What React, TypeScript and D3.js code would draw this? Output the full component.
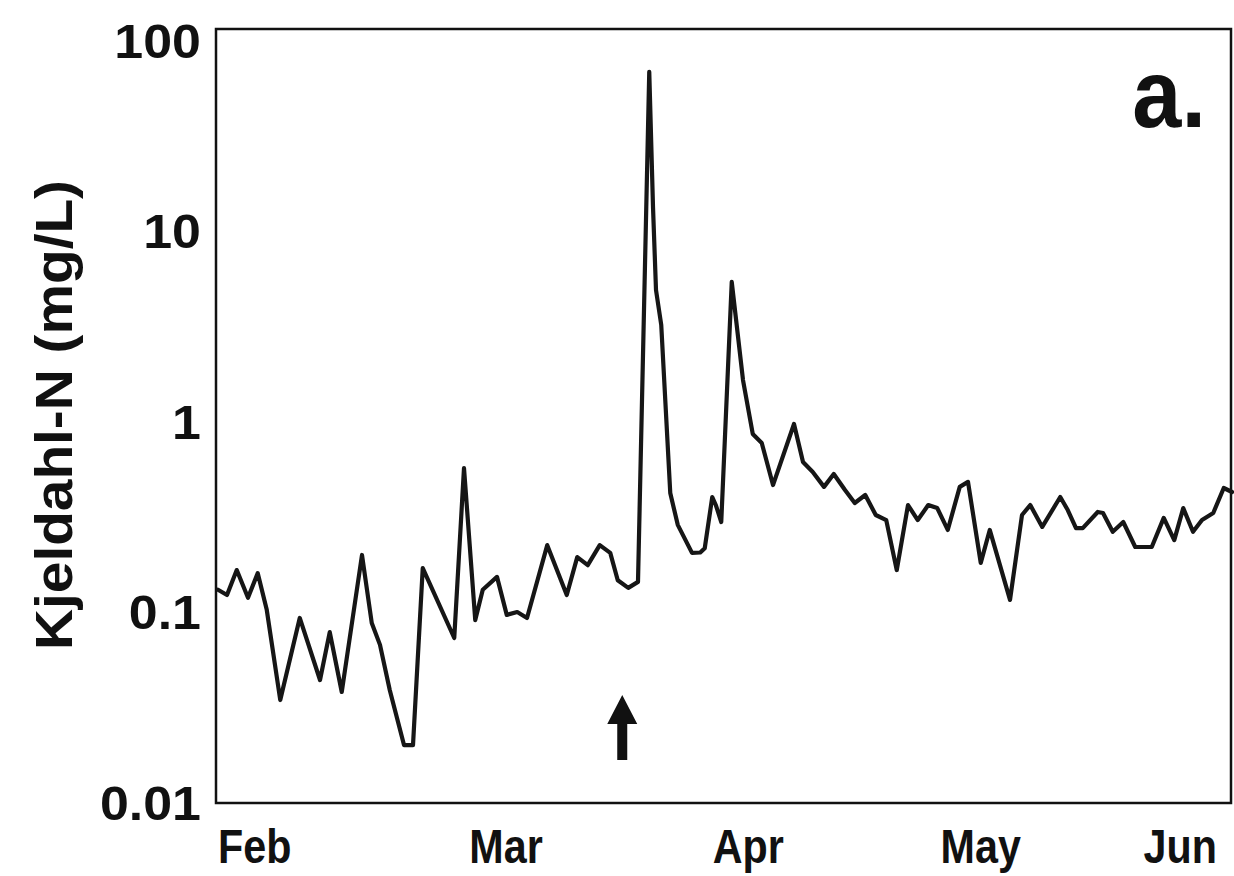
import React from "react";
import * as d3 from "d3";

// Days since 1 Feb (sampling dates) and Kjeldahl-N concentration (mg/L)
const days = [
  0, 1.2, 2.5, 4.0, 5.3, 6.5, 8.3, 10.9, 13.6, 14.9, 16.5, 19.2, 20.5, 21.6, 22.9,
  24.8, 26.0, 27.3, 31.5, 32.8, 34.3, 35.3, 37.2, 38.5, 39.9, 41.2, 43.9, 46.5, 47.9,
  49.3, 50.9, 52.3, 53.3, 54.7, 56.0, 57.5, 58.0, 58.4, 59.1, 60.3, 61.3, 63.2, 64.3,
  64.9, 65.9, 66.4, 67.1, 68.5, 70.0, 71.3, 72.5, 74.0, 76.8, 78.0, 79.3, 80.8, 82.1,
  83.6, 84.9, 86.3, 87.7, 89.1, 90.5, 92.0, 93.3, 94.7, 95.9, 97.3, 98.9, 100.0, 101.7,
  102.9, 105.6, 107.2, 108.3, 109.9, 112.3, 113.3, 114.4, 115.3, 117.3, 118.0, 119.3,
  120.7, 122.3, 124.5, 126.1, 127.5, 128.7, 130.0, 131.2, 132.7, 134.1, 135.2,
];
const values = [
  0.13, 0.122, 0.165, 0.118, 0.159, 0.102, 0.0343, 0.0925, 0.0437, 0.078, 0.0378, 0.198,
  0.087, 0.0668, 0.0387, 0.0199, 0.0199, 0.169, 0.0726, 0.566, 0.0902, 0.13, 0.152, 0.096,
  0.0994, 0.0925, 0.223, 0.122, 0.193, 0.175, 0.223, 0.203, 0.146, 0.133, 0.143, 68,
  13.3, 4.87, 3.19, 0.419, 0.285, 0.203, 0.204, 0.215, 0.399, 0.36, 0.295, 5.37, 1.64,
  0.855, 0.767, 0.461, 0.964, 0.609, 0.54, 0.451, 0.527, 0.434, 0.371, 0.409, 0.321,
  0.302, 0.165, 0.362, 0.302, 0.362, 0.349, 0.268, 0.451, 0.479, 0.18, 0.268, 0.115,
  0.321, 0.362, 0.278, 0.399, 0.341, 0.274, 0.274, 0.333, 0.329, 0.262, 0.295, 0.218,
  0.218, 0.31, 0.237, 0.349, 0.262, 0.302, 0.329, 0.445, 0.424,
];

const monthLabels = ["Feb", "Mar", "Apr", "May", "Jun"];
const monthLabelDays = [4.9, 38.4, 70.7, 101.7, 128.3];

const yTickValues = [0.01, 0.1, 1, 10, 100];
const yTickLabels = ["0.01", "0.1", "1", "10", "100"];

const arrowDay = 53.9;
const panelLabel = "a.";
const yAxisTitle = "Kjeldahl-N (mg/L)";

export default function App() {
  const W = 1234;
  const H = 876;
  const x = d3.scaleLinear().domain([0, 135.2]).range([218, 1232]);
  const y = d3.scaleLog().domain([0.01, 100]).range([802, 40]);

  const pts = days.map((d, i) => [d, values[i]] as [number, number]);
  const line = d3
    .line<[number, number]>()
    .x((d) => x(d[0]))
    .y((d) => y(d[1]))
    .curve(d3.curveLinear);

  const font = "'Liberation Sans', Arial, sans-serif";
  const ax = x(arrowDay);

  return (
    <svg
      width={W}
      height={H}
      viewBox={`0 0 ${W} ${H}`}
      style={{ position: "absolute", left: 0, top: 0, background: "#fff" }}
    >
      <rect x={0} y={0} width={W} height={H} fill="#fff" />
      {/* frame */}
      <rect
        x={x(0) - 2}
        y={29}
        width={x(135.2) - x(0) + 1}
        height={774}
        fill="none"
        stroke="#111"
        strokeWidth={2.5}
      />
      {/* series */}
      <path
        d={line(pts) || ""}
        fill="none"
        stroke="#161616"
        strokeWidth={4.2}
        strokeLinejoin="round"
        strokeLinecap="round"
      />
      {/* y tick labels */}
      {yTickValues.map((v, i) => (
        <text
          key={v}
          transform={`translate(201, ${y(v)}) scale(1.06, 1)`}
          dy="0.36em"
          textAnchor="end"
          fontFamily={font}
          fontWeight="bold"
          fontSize={49}
          fill="#111"
        >
          {yTickLabels[i]}
        </text>
      ))}
      {/* month labels */}
      {monthLabels.map((m, i) => (
        <text
          key={m}
          transform={`translate(${x(monthLabelDays[i])}, 863) scale(0.86, 1)`}
          textAnchor="middle"
          fontFamily={font}
          fontWeight="bold"
          fontSize={48}
          fill="#111"
        >
          {m}
        </text>
      ))}
      {/* y axis title */}
      <text
        transform={`translate(72, 415) rotate(-90)`}
        textAnchor="middle"
        fontFamily={font}
        fontWeight="bold"
        fontSize={51}
        textLength={470}
        lengthAdjust="spacingAndGlyphs"
        fill="#111"
      >
        {yAxisTitle}
      </text>
      {/* panel label */}
      <text
        transform="translate(1206, 127) scale(0.92, 1)"
        textAnchor="end"
        fontFamily={font}
        fontWeight="bold"
        fontSize={96}
        fill="#111"
      >
        {panelLabel}
      </text>
      {/* arrow */}
      <path
        d={`M${ax},695 L${ax + 15},724 L${ax + 5},724 L${ax + 5},760 L${ax - 5},760 L${ax - 5},724 L${ax - 15},724 Z`}
        fill="#111"
      />
    </svg>
  );
}
